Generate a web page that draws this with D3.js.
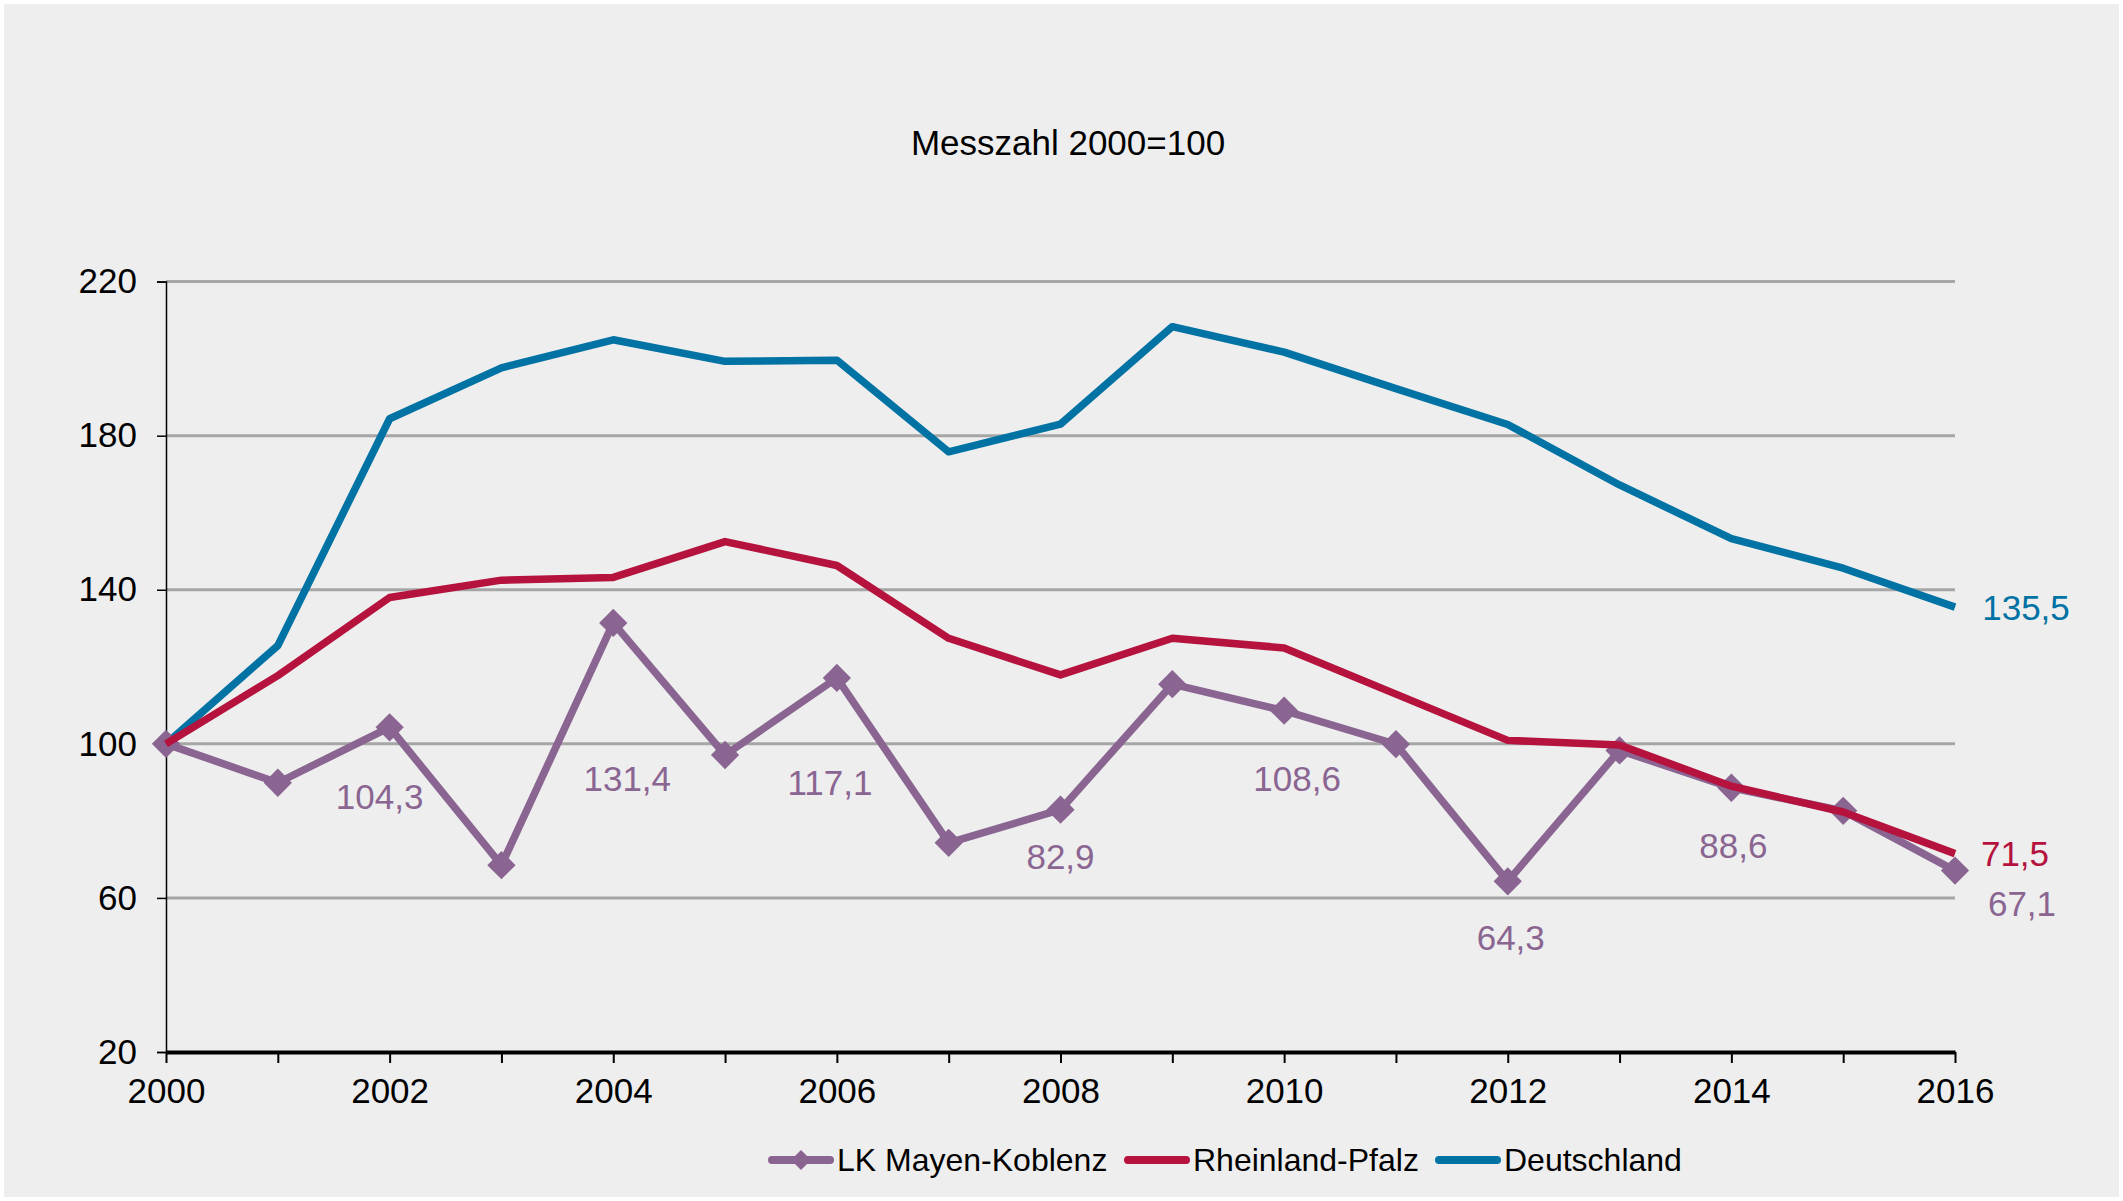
<!DOCTYPE html>
<html>
<head>
<meta charset="utf-8">
<script src="https://cdn.jsdelivr.net/npm/d3@7"></script>
<style>
  body{margin:0;background:#fff;}
  svg{display:block;font-family:"Liberation Sans",Arial,sans-serif;}
</style>
</head>
<body>
<script>
// Daten
const years = d3.range(2000, 2017);
const mayenKoblenz = [100, 89.9, 104.3, 68.5, 131.4, 97.1, 117.1, 74.3, 82.9, 115.5, 108.6, 99.9, 64.3, 98.3, 88.6, 82.6, 67.1];
const rheinlandPfalz = [100, 117.7, 138.0, 142.5, 143.2, 152.5, 146.3, 127.4, 117.9, 127.4, 124.9, 112.9, 100.9, 99.7, 89.0, 82.3, 71.5];
const deutschland = [100, 125.5, 184.4, 197.6, 204.9, 199.3, 199.6, 175.8, 183.0, 208.3, 201.7, 192.2, 182.9, 167.2, 153.3, 145.6, 135.5];
const yTicks = [20, 60, 100, 140, 180, 220];
const xTicks = [2000, 2002, 2004, 2006, 2008, 2010, 2012, 2014, 2016];
const seriesNames = ["LK Mayen-Koblenz", "Rheinland-Pfalz", "Deutschland"];
const title = "Messzahl 2000=100";

// beschriftete Punkte: [serie, jahr, dx, dy]
const labelPos = [
  [0, 2002, -10, 69], [0, 2004, 14, 156], [0, 2006, -7, 105], [0, 2008, 0, 47],
  [0, 2010, 13, 68], [0, 2012, 3, 56], [0, 2014, 2, 58], [0, 2016, 67, 33],
  [1, 2016, 60, 0], [2, 2016, 71, 0]
];

const colors = ["#8a6592", "#b5123e", "#0072a3"];
const allSeries = [mayenKoblenz, rheinlandPfalz, deutschland];

const width = 2123, height = 1201;
const svg = d3.select("body").append("svg").attr("width", width).attr("height", height);
svg.append("rect").attr("x", 4).attr("y", 4).attr("width", width - 8).attr("height", height - 8).attr("fill", "#eeeeee");

const x = d3.scaleLinear().domain([2000, 2016]).range([166, 1955]);
const y = d3.scaleLinear().domain([20, 220]).range([1052, 281.6]);

// Titel
svg.append("text").attr("x", 1068).attr("y", 142).attr("text-anchor", "middle")
  .attr("dominant-baseline", "central").style("font-size", "35px").attr("fill", "#000").text(title);

// Gitterlinien
svg.append("g").selectAll("line").data(yTicks.filter(d => d > 20)).join("line")
  .attr("x1", x(2000)).attr("x2", x(2016)).attr("y1", d => y(d)).attr("y2", d => y(d))
  .attr("stroke", "#a6a6a6").attr("stroke-width", 3);

// y-Achse
const yAxis = svg.append("g").attr("transform", `translate(${x(2000)},0)`)
  .call(d3.axisLeft(y).tickValues(yTicks).tickSize(9).tickPadding(20));
yAxis.select(".domain").attr("stroke", "#000").attr("stroke-width", 1.5);
yAxis.selectAll(".tick line").attr("stroke", "#000").attr("stroke-width", 1.5);
yAxis.selectAll("text").style("font-size", "35px").attr("fill", "#000")
  .attr("font-family", "Liberation Sans, Arial, sans-serif");

// x-Achse
const xAxis = svg.append("g").attr("transform", `translate(0,${y(20)})`)
  .call(d3.axisBottom(x).tickValues(years).tickSize(11).tickSizeOuter(0).tickPadding(15)
    .tickFormat(d => xTicks.includes(d) ? d3.format("d")(d) : ""));
xAxis.select(".domain").attr("stroke", "#000").attr("stroke-width", 4);
xAxis.selectAll(".tick line").attr("stroke", "#000").attr("stroke-width", 2);
xAxis.selectAll("text").style("font-size", "35px").attr("fill", "#000")
  .attr("font-family", "Liberation Sans, Arial, sans-serif");

// Linien (Rheinland-Pfalz liegt über Mayen-Koblenz)
const line = d3.line().x((d, i) => x(years[i])).y(d => y(d));
const drawOrder = [2, 0, 1];
drawOrder.forEach(s => {
  svg.append("path").datum(allSeries[s]).attr("d", line)
    .attr("fill", "none").attr("stroke", colors[s]).attr("stroke-width", 7.5)
    .attr("stroke-linejoin", "round");
  if (s === 0) {
    svg.append("g").selectAll("path").data(allSeries[0]).join("path")
      .attr("d", d3.symbol(d3.symbolSquare, 400))
      .attr("transform", (d, i) => `translate(${x(years[i])},${y(d)}) rotate(45)`)
      .attr("fill", colors[0]);
  }
});

// Datenbeschriftungen
svg.append("g").selectAll("text").data(labelPos).join("text")
  .attr("x", d => x(d[1]) + d[2])
  .attr("y", d => y(allSeries[d[0]][d[1] - 2000]) + d[3])
  .attr("text-anchor", "middle").attr("dominant-baseline", "central")
  .style("font-size", "35px").attr("fill", d => colors[d[0]])
  .text(d => d3.format(".1f")(allSeries[d[0]][d[1] - 2000]).replace(".", ","));

// Legende
const legendX = [772, 1128, 1439];
const legend = svg.append("g").selectAll("g").data(seriesNames).join("g")
  .attr("transform", (d, i) => `translate(${legendX[i]},1160)`);
legend.append("line").attr("x1", 0).attr("x2", 58).attr("y1", 0).attr("y2", 0)
  .attr("stroke", (d, i) => colors[i]).attr("stroke-width", 8).attr("stroke-linecap", "round");
legend.filter((d, i) => i === 0).append("path")
  .attr("d", d3.symbol(d3.symbolSquare, 200)).attr("transform", "translate(29,0) rotate(45)")
  .attr("fill", colors[0]);
legend.append("text").attr("x", 65).attr("y", 0).attr("dominant-baseline", "central")
  .style("font-size", "32px").attr("fill", "#000").text(d => d);
</script>
</body>
</html>
